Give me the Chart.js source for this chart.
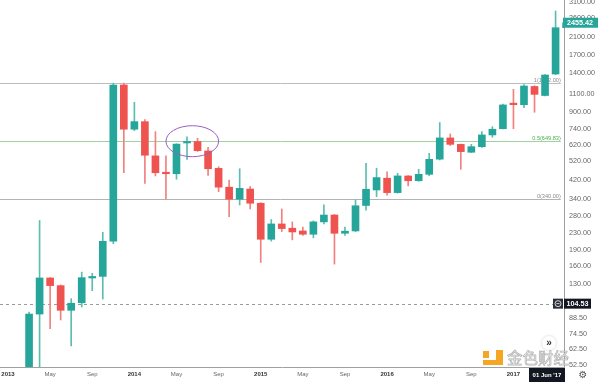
<!DOCTYPE html>
<html><head><meta charset="utf-8">
<script src="https://cdn.jsdelivr.net/npm/chart.js@4/dist/chart.umd.min.js"></script>
<style>html,body{margin:0;padding:0;background:#fff;overflow:hidden}</style>
</head><body>
<canvas id="c" width="600" height="382"></canvas>
<script>
// ---- data (monthly BTC/USD candles) ----
const months = ['2013-03','2013-04','2013-05','2013-06','2013-07','2013-08','2013-09','2013-10','2013-11','2013-12',
 '2014-01','2014-02','2014-03','2014-04','2014-05','2014-06','2014-07','2014-08','2014-09','2014-10','2014-11','2014-12',
 '2015-01','2015-02','2015-03','2015-04','2015-05','2015-06','2015-07','2015-08','2015-09','2015-10','2015-11','2015-12',
 '2016-01','2016-02','2016-03','2016-04','2016-05','2016-06','2016-07','2016-08','2016-09','2016-10','2016-11','2016-12',
 '2017-01','2017-02','2017-03','2017-04','2017-05','2017-06'];
const opens = [34,93,139.5,128,97,105.6,139.5,142,211,1220,
 742,808,550,457,450,636,646,581,478,387,338,379,
 323,215.5,256,244,236.6,228,262,283,230.5,236.6,315,375,
 428,364,439,416,447,530,673,626,573,610,696,746,
 990,978,1200,1084,1380,2322];
const highs = [95,266,140,129,110.5,149,147,233,1245,1245,
 1004,826,722,550,630,682,671,606,487,419,476,390,
 325,269,303,262,247,265,317,285,247,335,506,479,
 460,452,441,473,566,800,704,628,626,722,764,985,
 1162,1225,1210,1370,2800,2980];
const lows = [33,45,79,87,65,100.7,121,110,205,455,
 730,404,439,339,423,529,578,442,368,278,317,303,
 166,211,235,214,225,219,256,163,225,235,299,348,
 354,362,392,414,440,525,618,473,571,605,678,744,
 747,945,898,1080,1370,2300];
const closes = [93,139.5,128,97,105,140,140.5,210.6,1220,742,
 808,554,455,450,628,644,583,476,387,338,382,323,
 215.5,256,243,234,228,262,283,230.5,236,314,378,431,
 364,439,416,447,529,673,626,577,610,696,742,975,
 978,1206,1098,1365,2322,2455.42];

const yTickValues = [52.5,62.5,74.5,88.5,130,160,190,230,280,340,420,520,620,740,900,1100,1400,1700,2100,2600,3100];
const xTickMonths = ['2013-01','2013-05','2013-09','2014-01','2014-05','2014-09','2015-01','2015-05','2015-09','2016-01','2016-05','2016-09','2017-01'];
const monthNames = ['Jan','Feb','Mar','Apr','May','Jun','Jul','Aug','Sep','Oct','Nov','Dec'];

const fibLevels = [1, 0.5, 0];
const fibPrices = [1242.00, 649.83, 340.00];
const fibEndMonth = 52.5;            // right end of the fib lines (month index)
const ellipseMonthSpan = ['2014-04','2014-09'];
const ellipsePriceSpan = [545, 772];
const lastPrice = 2455.42;
const crosshairPrice = 104.53;
const crosshairMonth = '2017-06';
const crosshairDateText = "01 Jun '17";
const watermarkText = '金色财经';

// ---- helpers ----
const mIdx = s => { const [y, m] = s.split('-').map(Number); return (y - 2013) * 12 + (m - 1); };
const UP = '#26a69a', DOWN = '#ef5350', UPW = '#5cbcb2', DOWNW = '#f2807e';
const FONT = '"Liberation Sans", Arial, sans-serif';
const isUp = i => closes[i] >= opens[i];

const bodies = months.map((m, i) => ({x: mIdx(m), y: [opens[i], closes[i]]}));
const wicks = months.map((m, i) => ({x: mIdx(m), y: [lows[i], highs[i]]}));

const overlay = {
  id: 'overlay',
  beforeDatasetsDraw(chart) {
    const {ctx, chartArea: a, scales: {x, y}} = chart;
    ctx.save();
    ctx.beginPath(); ctx.rect(a.left, a.top, a.right - a.left, a.bottom - a.top); ctx.clip();
    const xEnd = x.getPixelForValue(fibEndMonth);
    const lineCols = ['#bdbdbd', '#9fd29f', '#b3b3b3'];
    const textCols = ['#8c8c8c', '#4caf50', '#8c8c8c'];
    fibLevels.forEach((lv, i) => {
      const py = Math.round(y.getPixelForValue(fibPrices[i])) + 0.5;
      ctx.strokeStyle = lineCols[i]; ctx.lineWidth = 1;
      ctx.beginPath(); ctx.moveTo(a.left, py); ctx.lineTo(xEnd, py); ctx.stroke();
      ctx.fillStyle = textCols[i]; ctx.font = '5.6px ' + FONT;
      ctx.textAlign = 'right'; ctx.textBaseline = 'bottom';
      ctx.fillText(lv + '(' + fibPrices[i].toFixed(2) + ')', xEnd, py - 0.5);
    });
    // dashed crosshair line
    const cy = Math.round(y.getPixelForValue(crosshairPrice)) + 0.5;
    ctx.strokeStyle = '#9a9a9a'; ctx.setLineDash([3, 3]);
    ctx.beginPath(); ctx.moveTo(a.left, cy); ctx.lineTo(a.right, cy); ctx.stroke();
    ctx.restore();
  },
  afterDatasetsDraw(chart) {
    const {ctx, scales: {x, y}} = chart;
    const x0 = x.getPixelForValue(mIdx(ellipseMonthSpan[0])), x1 = x.getPixelForValue(mIdx(ellipseMonthSpan[1]));
    const y0 = y.getPixelForValue(ellipsePriceSpan[1]), y1 = y.getPixelForValue(ellipsePriceSpan[0]);
    ctx.save();
    ctx.strokeStyle = '#9b5cc2'; ctx.lineWidth = 1;
    ctx.beginPath(); ctx.ellipse((x0 + x1) / 2, (y0 + y1) / 2, (x1 - x0) / 2, (y1 - y0) / 2, 0, 0, Math.PI * 2); ctx.stroke();
    ctx.restore();
  },
  afterDraw(chart) {
    const {ctx, chartArea: a, scales: {x, y}} = chart;
    ctx.save();
    // y-axis line down to bottom
    ctx.strokeStyle = '#a0a0a0'; ctx.lineWidth = 1;
    ctx.beginPath(); ctx.moveTo(a.right + 0.5, a.bottom); ctx.lineTo(a.right + 0.5, chart.height); ctx.stroke();
    // last price label
    const ly = y.getPixelForValue(lastPrice);
    ctx.fillStyle = UP; ctx.fillRect(a.right - 1, ly - 5, 599 - a.right, 10);
    ctx.fillStyle = '#fff'; ctx.font = 'bold 7.2px ' + FONT; ctx.textAlign = 'left'; ctx.textBaseline = 'middle';
    ctx.fillText(lastPrice.toFixed(2), a.right + 3, ly + 0.5);
    // crosshair price label
    const cy = y.getPixelForValue(crosshairPrice);
    ctx.fillStyle = '#131722'; ctx.fillRect(a.right, cy - 5, 27, 10);
    ctx.fillStyle = '#2a2e39'; ctx.fillRect(a.right - 11, cy - 5, 10, 10);
    ctx.strokeStyle = '#fff'; ctx.lineWidth = 0.8;
    ctx.beginPath(); ctx.arc(a.right - 6, cy, 3, 0, Math.PI * 2); ctx.stroke();
    ctx.beginPath(); ctx.moveTo(a.right - 7.6, cy); ctx.lineTo(a.right - 4.4, cy); ctx.stroke();
    ctx.fillStyle = '#fff'; ctx.font = 'bold 7.2px ' + FONT;
    ctx.fillText(crosshairPrice.toFixed(2), a.right + 2.5, cy + 0.5);
    // crosshair date label
    const w = 36;
    let cx = x.getPixelForValue(mIdx(crosshairMonth));
    cx = Math.min(cx, a.right + 1 - w / 2);
    ctx.fillStyle = '#131722'; ctx.fillRect(cx - w / 2, a.bottom + 1, w, chart.height - a.bottom - 1);
    ctx.fillStyle = '#fff'; ctx.font = 'bold 6px ' + FONT; ctx.textAlign = 'center';
    ctx.fillText(crosshairDateText, cx, a.bottom + 8);
    // scroll button
    const bx = a.right - 15, by = a.bottom - 24;
    ctx.shadowColor = 'rgba(0,0,0,0.2)'; ctx.shadowBlur = 3;
    ctx.fillStyle = '#fff'; ctx.beginPath(); ctx.arc(bx, by, 7, 0, Math.PI * 2); ctx.fill();
    ctx.shadowBlur = 0; ctx.shadowColor = 'transparent';
    ctx.fillStyle = '#333'; ctx.font = 'bold 10px ' + FONT; ctx.fillText('»', bx, by);
    // gear
    ctx.fillStyle = '#555'; ctx.font = '10px "DejaVu Sans"'; ctx.fillText('⚙', 583, a.bottom + 8);
    // watermark
    ctx.fillStyle = '#f5a623';
    ctx.fillRect(483, 351, 6, 7);
    ctx.fillRect(496, 350, 7, 15);
    ctx.fillRect(483, 360, 20, 5);
    ctx.font = '15.5px "Noto Sans CJK SC"'; ctx.textAlign = 'left'; ctx.textBaseline = 'middle';
    ctx.fillStyle = 'rgba(245,245,245,0.85)'; ctx.fillText(watermarkText, 507, 358);
    ctx.strokeStyle = 'rgba(160,160,160,0.8)'; ctx.lineWidth = 0.7; ctx.strokeText(watermarkText, 507, 358);
    ctx.restore();
  }
};

new Chart(document.getElementById('c'), {
  type: 'bar',
  data: {
    datasets: [
      { data: bodies, backgroundColor: months.map((m, i) => isUp(i) ? UP : DOWN), barThickness: 7,
        minBarLength: 1.5, grouped: false, borderWidth: 0, order: 1 },
      { data: wicks, backgroundColor: months.map((m, i) => isUp(i) ? UPW : DOWNW), barThickness: 1,
        grouped: false, borderWidth: 0, order: 2 }
    ]
  },
  options: {
    responsive: false, animation: false, devicePixelRatio: 1,
    layout: { padding: 0 },
    plugins: { legend: { display: false }, tooltip: { enabled: false } },
    scales: {
      x: {
        type: 'linear', position: 'bottom', min: -0.76, max: 52.8, offset: false,
        grid: { display: false, drawTicks: false, tickLength: 0 }, border: { display: true, color: '#a0a0a0' },
        afterBuildTicks: s => { s.ticks = xTickMonths.map(m => ({ value: mIdx(m) })); },
        afterFit: s => { s.height = 15; s.paddingLeft = 0; s.paddingRight = 0; },
        ticks: {
          autoSkip: false, maxRotation: 0, minRotation: 0, padding: 4,
          color: ctx => (ctx.tick && ctx.tick.value % 12 === 0) ? '#333' : '#666',
          font: ctx => ({ family: FONT, size: 6, weight: (ctx.tick && ctx.tick.value % 12 === 0) ? 'bold' : 'normal' }),
          callback: v => v % 12 === 0 ? String(2013 + Math.floor(v / 12)) : monthNames[v % 12]
        }
      },
      y: {
        type: 'logarithmic', position: 'right', min: 51.3, max: 3170,
        grid: { display: false, drawTicks: false, tickLength: 0 }, border: { display: true, color: '#a0a0a0' },
        afterBuildTicks: s => { s.ticks = yTickValues.map(v => ({ value: v })); },
        afterFit: s => { s.width = 36; s.paddingTop = 0; s.paddingBottom = 0; },
        ticks: { padding: 5, color: '#666', font: { family: FONT, size: 7.2 },
          callback: v => Number(v).toFixed(2) }
      }
    }
  },
  plugins: [overlay]
});
</script>
</body></html>
